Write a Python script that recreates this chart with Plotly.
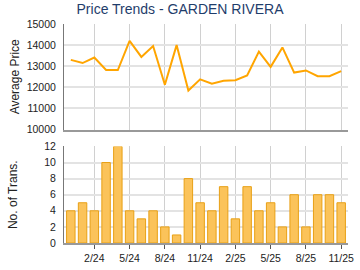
import plotly.graph_objects as go

months = ["12/23","1/24","2/24","3/24","4/24","5/24","6/24","7/24","8/24","9/24","10/24","11/24",
          "12/24","1/25","2/25","3/25","4/25","5/25","6/25","7/25","8/25","9/25","10/25","11/25"]
avg_price = [13300, 13150, 13410, 12820, 12820, 14200, 13440, 13960, 12120, 14000, 11850, 12380,
             12170, 12310, 12340, 12560, 13690, 12970, 13890, 12700, 12800, 12530, 12530, 12770]
num_trans = [4, 5, 4, 10, 12, 4, 3, 4, 2, 1, 8, 5, 4, 7, 3, 7, 4, 5, 2, 6, 2, 6, 6, 5]
tick_labels = ["2/24", "5/24", "8/24", "11/24", "2/25", "5/25", "8/25", "11/25"]
price_ticks = [10000, 11000, 12000, 13000, 14000, 15000]
trans_ticks = [0, 2, 4, 6, 8, 10, 12]

x = list(range(len(months)))
tick_vals = [months.index(t) for t in tick_labels]

fig = go.Figure()
fig.add_trace(go.Scatter(x=x, y=avg_price, mode="lines", line=dict(color="#FFA500", width=2),
                         xaxis="x", yaxis="y", hoverinfo="skip"))
fig.add_trace(go.Bar(x=x, y=num_trans, width=0.72,
                     marker=dict(color="#FBC35A", line=dict(color="#E8A015", width=1)),
                     xaxis="x2", yaxis="y2", hoverinfo="skip"))

font = "Liberation Sans, Arial, sans-serif"
tfont = dict(family=font, size=10.5, color="#222222")
xr = [-0.58, 23.58]
common_x = dict(range=xr, tickvals=tick_vals, ticktext=tick_labels, showgrid=True, gridcolor="#d0d0d0",
                gridwidth=1, zeroline=False, showline=True, linecolor="#999999", linewidth=2,
                tickfont=tfont)
common_y = dict(showgrid=True, gridcolor="#e3e3e3", gridwidth=2, zeroline=False,
                showline=True, linecolor="#777777", linewidth=1, ticks="", tickfont=tfont,
                tickformat="d", ticklabelstandoff=5)
fig.update_layout(
    width=360, height=270, margin=dict(l=64, r=6, t=24, b=26),
    paper_bgcolor="white", plot_bgcolor="white", showlegend=False,
    title=dict(text="Price Trends - GARDEN RIVERA", x=0.5, xanchor="center", y=0.985, yanchor="top",
               font=dict(family=font, size=14, color="#1f3d6b")),
    xaxis=dict(**common_x, domain=[0, 1], anchor="y", showticklabels=False, ticks=""),
    yaxis=dict(**common_y, domain=[0.518, 1], range=[10000, 15000], tickvals=price_ticks,
               title=dict(text="Average Price", standoff=4, font=dict(family=font, size=12, color="#222222"))),
    xaxis2=dict(**common_x, domain=[0, 1], anchor="y2", ticks="outside", ticklen=4,
                tickcolor="#555555", tickwidth=1),
    yaxis2=dict(**common_y, domain=[0, 0.441], range=[0, 12], tickvals=trans_ticks,
                title=dict(text="No. of Trans.", standoff=24, font=dict(family=font, size=12, color="#222222"))),
)
fig.write_html("out.html")
